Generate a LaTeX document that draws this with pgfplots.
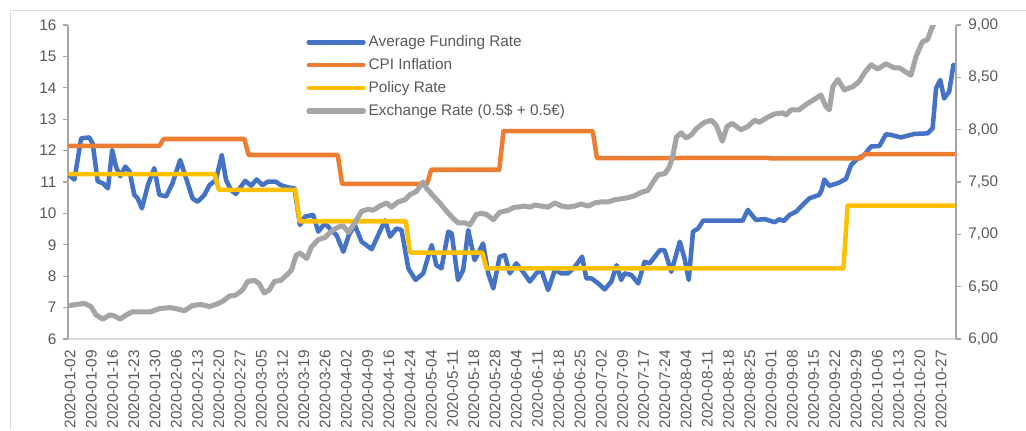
\documentclass[border=0pt]{standalone}
\usepackage{fontspec}
\setmainfont{Liberation Sans}
\usepackage{pgfplots}
\pgfplotsset{compat=1.18}
\definecolor{cblue}{HTML}{4472C4}
\definecolor{corange}{HTML}{ED7D31}
\definecolor{cyellow}{HTML}{FFC000}
\definecolor{cgray}{HTML}{A5A5A5}
\definecolor{txt}{HTML}{595959}
\definecolor{axl}{HTML}{A6A6A6}
\definecolor{axb}{HTML}{D9D9D9}
\pgfplotsset{common/.style={
  scale only axis, width=666pt, height=235.5pt,
  at={(51pt,68.25pt)}, anchor=south west,
  xmin=-0.5, xmax=208.5,
  /pgf/number format/assume math mode=true,
  tick label style={font=\fontsize{11.5}{13}\selectfont, text=txt},
  tick align=outside, major tick length=3.5pt,
  every axis plot/.append style={line join=round, line cap=round},
}}
\begin{document}
\begin{tikzpicture}
\draw[axb, line width=0.75pt] (7.5pt,0pt) -- (7.5pt,315pt) -- (775pt,315pt);
\begin{axis}[common,
  ymin=6, ymax=16, ytick={6,7,...,16},
  axis x line*=bottom, axis y line*=left,
  x axis line style={draw=axb, line width=1.1pt, -},
  y axis line style={draw=axl, line width=1.1pt, -},
  every x tick/.style={draw=none},
  every y tick/.style={draw=axl, line width=0.8pt},
  xtick={0,5,...,205},
  xticklabels={2020-01-02,2020-01-09,2020-01-16,2020-01-23,2020-01-30,2020-02-06,2020-02-13,2020-02-20,2020-02-27,2020-03-05,2020-03-12,2020-03-19,2020-03-26,2020-04-02,2020-04-09,2020-04-16,2020-04-24,2020-05-04,2020-05-11,2020-05-18,2020-05-28,2020-06-04,2020-06-11,2020-06-18,2020-06-25,2020-07-02,2020-07-09,2020-07-17,2020-07-24,2020-08-04,2020-08-11,2020-08-18,2020-08-25,2020-09-01,2020-09-08,2020-09-15,2020-09-22,2020-09-29,2020-10-06,2020-10-13,2020-10-20,2020-10-27},
  xticklabel style={rotate=90, anchor=east, inner xsep=4.5pt},
  yticklabel style={inner xsep=5pt},
]
% Average Funding Rate
\addplot[cblue, line width=3.4pt] coordinates {
(0,11.19) (1,11.08) (2.6,12.39) (4.5,12.42) (5.3,12.23) (6.5,11.02) (7.7,10.96) (8.9,10.80) (9.9,12.02) (10.8,11.49) (11.8,11.18) (13,11.49) (14,11.33) (15.1,10.59) (15.9,10.48) (16.9,10.16) (18.3,10.90) (19.8,11.44) (21,10.59) (22.6,10.54) (24.1,10.96) (25.9,11.70) (27.3,11.12) (28.8,10.48) (30,10.37) (31.6,10.59) (32.8,10.90) (34.3,11.06) (35.7,11.86) (36.7,11.06) (37.9,10.74) (39,10.62) (41.2,11.04) (42.6,10.88) (43.9,11.08) (45.3,10.90) (46.5,11.01) (48.4,11.01) (49.6,10.90) (51.2,10.83) (52.8,10.80) (54.1,9.63) (55.3,9.90) (57.2,9.95) (58.4,9.42) (60,9.69) (61.1,9.52) (62.7,9.31) (64.3,8.78) (65.6,9.31) (67,9.63) (68.6,9.10) (71,8.86) (72.5,9.31) (74.1,9.78) (75.3,9.26) (76.8,9.52) (78,9.47) (79.6,8.25) (81.3,7.88) (83.1,8.09) (85.1,8.99) (86.2,8.35) (87.4,8.25) (89,9.42) (89.8,9.36) (91.3,7.88) (92.5,8.19) (93.7,9.47) (95.2,8.51) (97.2,9.04) (98.4,8.09) (99.6,7.61) (101.1,8.62) (102.3,8.67) (103.5,8.09) (105,8.41) (106.6,8.14) (108.2,7.83) (109.7,8.09) (110.9,8.20) (112.5,7.56) (114.1,8.20) (115.6,8.09) (117.2,8.09) (118.8,8.30) (120.5,8.62) (121.5,7.93) (122.7,7.93) (124.3,7.77) (125.8,7.58) (127.4,7.83) (128.6,8.35) (129.7,7.88) (130.5,8.09) (132.1,8.04) (133.7,7.77) (135.2,8.46) (136.4,8.41) (137.6,8.62) (138.8,8.83) (139.9,8.83) (141.5,8.14) (143.5,9.10) (144.6,8.57) (145.6,7.88) (146.6,9.42) (147.8,9.52) (149,9.77) (158.3,9.77) (159.5,10.11) (161.4,9.79) (163.4,9.82) (165.8,9.72) (166.9,9.81) (168,9.76) (169.3,9.95) (170.9,10.06) (172.4,10.27) (174,10.48) (176.3,10.59) (176.9,10.75) (177.5,11.08) (178.7,10.88) (181,10.98) (182.6,11.10) (183.8,11.54) (185.4,11.75) (186.9,11.86) (188.5,12.13) (190.5,12.15) (192,12.52) (193.2,12.50) (195.5,12.42) (198.7,12.53) (201.8,12.55) (203,12.71) (203.8,13.98) (204.8,14.25) (205.7,13.66) (206.9,13.88) (207.9,14.73)
};
% CPI Inflation
\addplot[corange, line width=3.4pt] coordinates {
(0,12.15) (21,12.15) (22,12.37) (41,12.37) (42,11.86) (63,11.86) (64,10.94) (84,10.94) (85,11.39) (101,11.39) (102,12.62) (123,12.62) (124,11.76) (143,11.76) (144,11.77) (164,11.77) (165,11.75) (186,11.75) (187,11.89) (208,11.89)
};
% Policy Rate
\addplot[cyellow, line width=3.4pt] coordinates {
(0,11.25) (34,11.25) (35,10.75) (53,10.75) (54,9.75) (79,9.75) (80,8.75) (97,8.75) (98,8.25) (182,8.25) (183,10.25) (208,10.25)
};
\end{axis}
\begin{axis}[common,
  ymin=6, ymax=9, ytick={6,6.5,...,9},
  axis y line*=right, axis x line=none, xtick=\empty,
  y axis line style={draw=axl, line width=1.1pt, -},
  every y tick/.style={draw=axl, line width=0.8pt},
  yticklabel style={inner xsep=5.5pt, /pgf/number format/.cd, fixed, fixed zerofill, precision=2, use comma},
  legend style={at={(0.268,0.975)}, anchor=north west, draw=none, fill=none,
    font=\fontsize{11.5}{13}\selectfont, text=txt, row sep=3.3pt, inner sep=0pt},
  legend cell align=left,
  legend image code/.code={\draw[#1] (0pt,0pt) -- (41pt,0pt);},
]
\addlegendimage{cblue, line width=3.4pt, line cap=round}
\addlegendentry{Average Funding Rate}
\addlegendimage{corange, line width=3.4pt, line cap=round}
\addlegendentry{CPI Inflation}
\addlegendimage{cyellow, line width=3.4pt, line cap=round}
\addlegendentry{Policy Rate}
% Exchange Rate
\addplot[cgray, line width=3.8pt] coordinates {
(0,6.32) (1.4,6.33) (3.4,6.34) (4.9,6.31) (6.1,6.23) (7.7,6.19) (9.3,6.23) (10.4,6.22) (11.8,6.19) (13.2,6.23) (14.7,6.26) (16.3,6.26) (19,6.26) (21,6.29) (23.4,6.30) (24.9,6.29) (26.9,6.27) (28.8,6.32) (30.8,6.33) (32.8,6.31) (34.3,6.33) (35.9,6.36) (37.5,6.41) (39,6.42) (40.6,6.47) (41.8,6.55) (43.4,6.56) (44.5,6.53) (45.7,6.44) (46.9,6.47) (48.1,6.55) (49.6,6.56) (51.2,6.62) (52.1,6.66) (53.2,6.80) (54.1,6.82) (55.7,6.77) (56.8,6.88) (58.4,6.95) (60,6.97) (61.5,7.03) (63.1,7.07) (64.3,7.08) (65.5,7.02) (67,7.11) (68.6,7.22) (70.2,7.24) (71.3,7.23) (72.9,7.27) (74.5,7.30) (75.6,7.26) (77.2,7.31) (78.8,7.33) (80,7.38) (81.5,7.41) (83.1,7.50) (83.9,7.44) (85.4,7.37) (87,7.30) (88.6,7.22) (90.2,7.15) (91.3,7.11) (92.9,7.11) (94.1,7.09) (95.6,7.19) (96.8,7.20) (98,7.19) (99.6,7.14) (101.1,7.21) (103.1,7.23) (104.6,7.26) (105.4,7.26) (107,7.27) (108.2,7.26) (109.4,7.28) (110.9,7.27) (112.5,7.26) (114.1,7.30) (115.6,7.27) (117.2,7.26) (118.8,7.27) (120.3,7.29) (121.9,7.27) (123.5,7.30) (125,7.31) (126.6,7.31) (128.2,7.33) (129.7,7.34) (131.3,7.35) (132.9,7.37) (134.4,7.40) (136,7.42) (137.2,7.50) (138.4,7.57) (140,7.58) (141.1,7.65) (141.9,7.76) (142.7,7.93) (143.8,7.97) (145,7.92) (146.2,7.95) (147.4,8.01) (149.3,8.07) (150.9,8.09) (152.1,8.04) (153.5,7.89) (154.6,8.03) (155.8,8.06) (157.9,8.00) (159.5,8.03) (161.1,8.09) (162.2,8.07) (164.2,8.12) (165.8,8.15) (167.7,8.16) (168.5,8.14) (169.7,8.19) (171.6,8.19) (173.2,8.24) (174.8,8.28) (176.7,8.33) (177.9,8.22) (178.7,8.19) (179.5,8.41) (180.7,8.48) (182.2,8.38) (184.2,8.41) (185.7,8.46) (186.9,8.54) (188.5,8.62) (190.1,8.58) (192,8.63) (194,8.59) (195.2,8.59) (196.7,8.55) (197.9,8.52) (199.1,8.70) (200.6,8.84) (201.8,8.86) (202.6,8.95) (203.5,9.03) (205,9.15) (207,9.25) (208,9.30)
};
\addlegendentry{Exchange Rate (0.5\$ + 0.5€)}
\end{axis}
\pgfresetboundingbox
\useasboundingbox (0pt,0pt) rectangle (769.5pt,322.5pt);
\end{tikzpicture}
\end{document}
